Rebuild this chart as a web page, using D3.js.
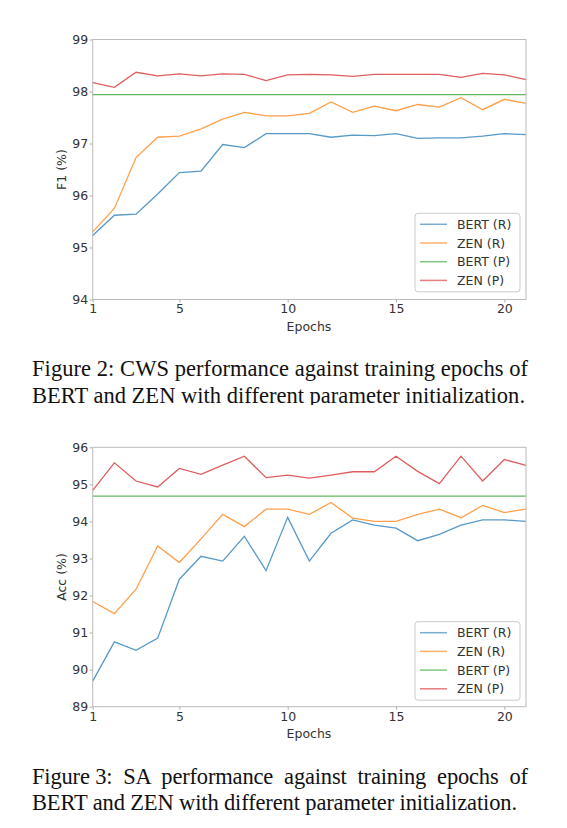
<!DOCTYPE html>
<html><head><meta charset="utf-8">
<script src="https://cdn.jsdelivr.net/npm/d3@7"></script>
<style>html,body{margin:0;padding:0;background:#fff;}svg{display:block;}</style>
</head><body>
<svg id="fig" width="567" height="828"></svg>
<script>
const epochs = [1,2,3,4,5,6,7,8,9,10,11,12,13,14,15,16,17,18,19,20,21];
const xTicks = [1,5,10,15,20];
const seriesNames = ["BERT (R)","ZEN (R)","BERT (P)","ZEN (P)"];
const seriesColors = ["#1f77b4","#ff7f0e","#2ca02c","#d62728"];

// Figure 2: CWS F1
const cwsBertR = [95.23,95.62,95.64,96.03,96.44,96.47,96.98,96.92,97.19,97.19,97.19,97.12,97.16,97.15,97.19,97.10,97.11,97.11,97.14,97.19,97.17];
const cwsZenR  = [95.30,95.75,96.73,97.12,97.14,97.28,97.47,97.60,97.53,97.53,97.58,97.80,97.60,97.72,97.63,97.75,97.70,97.88,97.65,97.85,97.77];
const cwsBertP = [97.94,97.94,97.94,97.94,97.94,97.94,97.94,97.94,97.94,97.94,97.94,97.94,97.94,97.94,97.94,97.94,97.94,97.94,97.94,97.94,97.94];
const cwsZenP  = [98.17,98.08,98.37,98.30,98.34,98.30,98.34,98.33,98.21,98.32,98.33,98.32,98.29,98.33,98.33,98.33,98.33,98.27,98.35,98.32,98.23];
const cwsYTicks = [94,95,96,97,98,99];

// Figure 3: SA accuracy
const saBertR = [89.69,90.75,90.52,90.85,92.44,93.06,92.93,93.60,92.67,94.11,92.93,93.68,94.04,93.90,93.82,93.48,93.65,93.90,94.04,94.04,94.00];
const saZenR  = [91.84,91.51,92.17,93.34,92.89,93.53,94.19,93.86,94.33,94.33,94.19,94.51,94.09,94.00,94.00,94.19,94.33,94.10,94.43,94.24,94.33];
const saBertP = [94.68,94.68,94.68,94.68,94.68,94.68,94.68,94.68,94.68,94.68,94.68,94.68,94.68,94.68,94.68,94.68,94.68,94.68,94.68,94.68,94.68];
const saZenP  = [94.84,95.58,95.09,94.93,95.43,95.27,95.52,95.76,95.18,95.25,95.17,95.25,95.34,95.34,95.76,95.35,95.02,95.76,95.09,95.67,95.51];
const saYTicks = [89,90,91,92,93,94,95,96];

const svg = d3.select("#fig");
svg.append("rect").attr("width",567).attr("height",828).attr("fill","#fff");

function drawChart(cfg){
  const g = svg.append("g");
  const x = d3.scaleLinear().domain([1,21]).range([92.7,526]);
  const y = d3.scaleLinear().domain(cfg.yDomain).range([cfg.bottom,cfg.top]);
  const font = "'DejaVu Sans', sans-serif";

  const xa = g.append("g").attr("transform",`translate(0,${cfg.bottom})`)
    .call(d3.axisBottom(x).tickValues(xTicks).tickFormat(d3.format("d")).tickSizeOuter(0).tickSize(3).tickPadding(2));
  const ya = g.append("g").attr("transform",`translate(92.7,0)`)
    .call(d3.axisLeft(y).tickValues(cfg.yTicks).tickFormat(d3.format("d")).tickSizeOuter(0).tickSize(3).tickPadding(1.5));
  [xa,ya].forEach(a=>{
    a.select(".domain").remove();
    a.selectAll(".tick line").attr("stroke","#999").attr("stroke-width",0.8);
    a.selectAll(".tick text").attr("fill","#333").style("font-family",font).style("font-size","12.5px");
  });

  const line = d3.line().x((d,i)=>x(epochs[i])).y(d=>y(d));
  cfg.series.forEach((s,i)=>{
    g.append("path").datum(s).attr("d",line).attr("fill","none")
      .attr("stroke",seriesColors[i]).attr("stroke-opacity",0.75).attr("stroke-width",1.3);
  });

  // frame
  g.append("rect").attr("x",92.7).attr("y",cfg.top).attr("width",526-92.7).attr("height",cfg.bottom-cfg.top)
    .attr("fill","none").attr("stroke","#bbb").attr("stroke-width",1);

  // axis labels
  g.append("text").attr("x",309).attr("y",cfg.bottom+31).attr("text-anchor","middle")
    .style("font-family",font).style("font-size","12.5px").attr("fill","#333").text("Epochs");
  g.append("text").attr("transform",`translate(66,${(cfg.top+cfg.bottom)/2}) rotate(-90)`).attr("text-anchor","middle")
    .style("font-family",font).style("font-size","12.5px").attr("fill","#333").text(cfg.yLabel);

  // legend
  const lg = g.append("g");
  lg.append("rect").attr("x",415).attr("y",cfg.legTop).attr("width",105).attr("height",78.5).attr("rx",3)
    .attr("fill","#fff").attr("fill-opacity",0.85).attr("stroke","#ccc").attr("stroke-width",1);
  seriesNames.forEach((n,i)=>{
    const yy = cfg.legTop + 11 + i*18.7;
    lg.append("line").attr("x1",420).attr("x2",447).attr("y1",yy).attr("y2",yy)
      .attr("stroke",seriesColors[i]).attr("stroke-opacity",0.6).attr("stroke-width",1.5);
    lg.append("text").attr("x",457).attr("y",yy+4.5).style("font-family",font).style("font-size","12.5px")
      .attr("fill","#333").text(n);
  });
}

drawChart({yDomain:[94,99], top:39.5, bottom:299.5, yTicks:cwsYTicks, yLabel:"F1 (%)",
  series:[cwsBertR,cwsZenR,cwsBertP,cwsZenP], legTop:213.3});
drawChart({yDomain:[89,96], top:447.3, bottom:706.7, yTicks:saYTicks, yLabel:"Acc (%)",
  series:[saBertR,saZenR,saBertP,saZenP], legTop:621.7});

// captions
const serif = "'Liberation Serif','Times New Roman',serif";
svg.append("defs").append("clipPath").attr("id","cap1clip").append("rect").attr("x",0).attr("y",340).attr("width",567).attr("height",65);
const cap1 = svg.append("g").attr("clip-path","url(#cap1clip)");
function capLine(parent, txt, x, y, w){
  parent.append("text").attr("x",x).attr("y",y).attr("textLength",w).attr("lengthAdjust","spacing")
    .style("white-space","pre")
    .style("font-family",serif).style("font-size","22.5px").attr("fill","#111").text(txt);
}
capLine(cap1,"Figure 2: CWS performance against training epochs of",32,376,496);
capLine(cap1,"BERT and ZEN with different parameter initialization.",32,403,493);
capLine(svg,"Figure 3:  SA  performance  against  training  epochs  of",32,784,496);
capLine(svg,"BERT and ZEN with different parameter initialization.",32,810,485);
</script>
</body></html>
